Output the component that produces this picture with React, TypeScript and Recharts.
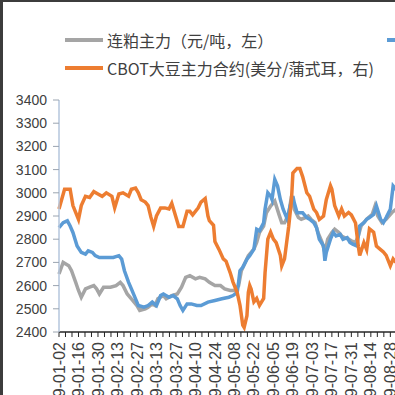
import { LineChart, Line, XAxis, YAxis } from "recharts";

// day = days since 2019-01-02
const grayDay = [0, 3, 7, 9, 12, 14, 16, 19, 22, 25, 27, 29, 32, 37, 41, 44, 46, 49, 52, 56, 58, 62, 64, 67, 69, 71, 75, 77, 81, 85, 88, 91, 94, 98, 101, 105, 108, 112, 116, 119, 123, 126, 129, 131, 136, 140, 142, 144, 147, 149, 152, 155, 158, 160, 162, 165, 167, 169, 172, 174, 177, 179, 181, 184, 186, 189, 191, 193, 196, 198, 201, 203, 205, 208, 210, 213, 215, 217, 221, 225, 227, 229, 232, 235, 239, 242];
const grayValue = [2650, 2700, 2686, 2664, 2614, 2579, 2550, 2586, 2593, 2600, 2586, 2564, 2593, 2593, 2600, 2614, 2600, 2564, 2543, 2514, 2493, 2500, 2507, 2521, 2514, 2543, 2557, 2543, 2557, 2564, 2593, 2636, 2643, 2629, 2636, 2629, 2614, 2600, 2600, 2586, 2579, 2579, 2600, 2664, 2729, 2757, 2786, 2829, 2857, 2914, 2943, 2964, 2907, 2871, 2871, 2907, 2986, 2929, 2893, 2886, 2893, 2900, 2886, 2871, 2829, 2786, 2743, 2800, 2829, 2843, 2829, 2814, 2807, 2800, 2793, 2786, 2814, 2857, 2886, 2907, 2943, 2900, 2871, 2886, 2914, 2929];

const blueDay = [0, 3, 6, 8, 10, 13, 16, 19, 21, 24, 26, 29, 34, 39, 43, 45, 47, 50, 52, 55, 57, 61, 64, 67, 70, 73, 75, 79, 82, 85, 87, 89, 92, 95, 99, 102, 107, 112, 117, 122, 125, 128, 129, 130, 132, 135, 137, 140, 142, 144, 147, 148, 150, 152, 153, 155, 157, 159, 161, 164, 166, 168, 169, 171, 175, 178, 180, 183, 185, 187, 190, 191, 192, 195, 197, 199, 202, 204, 207, 209, 211, 214, 216, 219, 221, 223, 226, 228, 231, 233, 235, 238, 240, 242];
const blueValue = [2850, 2871, 2879, 2857, 2829, 2771, 2743, 2736, 2750, 2743, 2729, 2721, 2721, 2721, 2729, 2714, 2664, 2614, 2586, 2543, 2514, 2507, 2514, 2529, 2514, 2557, 2564, 2550, 2557, 2543, 2514, 2493, 2521, 2521, 2514, 2514, 2529, 2536, 2543, 2550, 2557, 2571, 2614, 2664, 2679, 2714, 2729, 2757, 2843, 2836, 2871, 2929, 3000, 2986, 2971, 3057, 3029, 2971, 2929, 2886, 2943, 2986, 2957, 2914, 2914, 2893, 2886, 2871, 2850, 2800, 2771, 2707, 2743, 2800, 2829, 2814, 2821, 2800, 2807, 2786, 2779, 2771, 2857, 2871, 2886, 2893, 2907, 2943, 2886, 2871, 2893, 2929, 3029, 3014];

// CBOT soybean, cents/bushel (right axis)
const cbotDay = [0, 4, 8, 10, 14, 16, 19, 22, 25, 28, 31, 34, 38, 40, 43, 46, 50, 52, 55, 57, 59, 62, 64, 66, 68, 70, 73, 76, 79, 81, 83, 86, 89, 92, 94, 96, 100, 102, 105, 107, 108, 111, 112, 115, 118, 120, 123, 125, 128, 130, 132, 133, 135, 136, 137, 138, 140, 142, 144, 147, 148, 150, 152, 154, 156, 159, 160, 162, 165, 167, 168, 171, 173, 175, 178, 180, 183, 185, 187, 190, 192, 195, 196, 198, 201, 203, 205, 208, 210, 213, 215, 216, 219, 221, 223, 226, 228, 231, 233, 235, 238, 240, 242];
const cbotValue = [906, 923, 923, 909, 897, 909, 917, 916, 921, 919, 917, 920, 917, 907, 919, 920, 917, 923, 924, 920, 914, 912, 909, 899, 891, 900, 907, 907, 906, 911, 903, 891, 891, 904, 904, 901, 907, 912, 915, 900, 896, 892, 878, 871, 863, 861, 851, 843, 834, 823, 806, 804, 814, 834, 840, 837, 826, 829, 823, 829, 851, 880, 886, 880, 877, 866, 857, 863, 891, 914, 937, 941, 941, 934, 920, 917, 906, 903, 897, 900, 914, 926, 923, 909, 900, 906, 900, 903, 901, 894, 874, 866, 877, 871, 889, 886, 874, 871, 869, 866, 857, 863, 860];

const leftTicks = [2400, 2500, 2600, 2700, 2800, 2900, 3000, 3100, 3200, 3300, 3400];
const rightTicks = [800, 820, 840, 860, 880, 900, 920, 940, 960, 980, 1000];

const GRAY_NAME = "连粕主力（元/吨，左）";
const BLUE_NAME = "豆粕现货（元/吨，左）";
const CBOT_NAME = "CBOT大豆主力合约(美分/蒲式耳，右)";

const toRows = (days: number[], vals: number[]) => days.map((d, i) => ({ day: d, v: vals[i] }));
const grayRows = toRows(grayDay, grayValue);
const blueRows = toRows(blueDay, blueValue);
const cbotRows = toRows(cbotDay, cbotValue);

const START = Date.UTC(2019, 0, 2);
const pad = (n: number) => String(n).padStart(2, "0");
const fmtDay = (d: number) => {
  const t = new Date(START + Math.round(d) * 86400000);
  return `${t.getUTCFullYear()}-${pad(t.getUTCMonth() + 1)}-${pad(t.getUTCDate())}`;
};

// minor ticks: 3 per 14-day label step
const xTicks = Array.from({ length: 55 }, (_, i) => (i * 14) / 3);

const XTick = (props: any) => {
  const { x, y, index, payload } = props;
  if (index % 3 !== 0) return null;
  return (
    <text
      x={x}
      y={y}
      transform={`rotate(-90, ${x}, ${y})`}
      textAnchor="end"
      dy="0.35em"
      fontSize={16}
      fontFamily="Liberation Sans"
      fill="#404040"
    >
      {fmtDay(payload.value)}
    </text>
  );
};

const legendText = { position: "absolute" as const, fontFamily: "Noto Sans CJK SC", fontSize: 16, color: "#404040", lineHeight: "20px", whiteSpace: "nowrap" as const };
const swatch = (color: string, left: number, top: number) => (
  <div style={{ position: "absolute", left, top, width: 38, height: 4, background: color }} />
);

export default function App() {
  return (
    <div style={{ position: "absolute", left: 0, top: 0, width: 395, height: 395, overflow: "hidden", background: "#fff" }}>
      <LineChart width={464} height={395} margin={{ top: 100, right: 0, bottom: 0, left: 0 }}>
        <XAxis
          dataKey="day"
          type="number"
          domain={[0, 255]}
          ticks={xTicks}
          interval={0}
          height={63}
          tick={<XTick />}
          tickSize={5}
          tickMargin={5}
          axisLine={{ stroke: "#262626", strokeWidth: 1.5 }}
          tickLine={{ stroke: "#262626" }}
        />
        <YAxis
          yAxisId="left"
          domain={[2400, 3400]}
          ticks={leftTicks}
          width={59}
          tickSize={6}
          tickMargin={6}
          axisLine={{ stroke: "#b4c6dc", strokeWidth: 1.5 }}
          tickLine={{ stroke: "#9aa4b0" }}
          tick={{ fontSize: 14, fontFamily: "Liberation Sans", fill: "#404040" }}
        />
        <YAxis
          yAxisId="right"
          orientation="right"
          domain={[800, 1000]}
          ticks={rightTicks}
          width={50}
          tick={{ fontSize: 14, fontFamily: "Liberation Sans", fill: "#404040" }}
        />
        <Line yAxisId="left" data={grayRows} dataKey="v" name={GRAY_NAME} stroke="#a5a5a5" strokeWidth={3.5} dot={false} isAnimationActive={false} />
        <Line yAxisId="left" data={blueRows} dataKey="v" name={BLUE_NAME} stroke="#5b9bd5" strokeWidth={3.5} dot={false} isAnimationActive={false} />
        <Line yAxisId="right" data={cbotRows} dataKey="v" name={CBOT_NAME} stroke="#ed7d31" strokeWidth={3.5} dot={false} isAnimationActive={false} />
      </LineChart>

      {swatch("#a5a5a5", 65, 38)}
      <div style={{ ...legendText, left: 107, top: 30 }}>{GRAY_NAME}</div>
      {swatch("#5b9bd5", 387, 38)}
      <div style={{ ...legendText, left: 429, top: 30 }}>{BLUE_NAME}</div>
      {swatch("#ed7d31", 65, 66)}
      <div style={{ ...legendText, left: 107, top: 58 }}>{CBOT_NAME}</div>

      <div style={{ position: "absolute", left: 0, top: 0, width: 395, height: 2, background: "#3c3c3c" }} />
      <div style={{ position: "absolute", left: 0, top: 0, width: 3, height: 395, background: "#3c3c3c" }} />
    </div>
  );
}
